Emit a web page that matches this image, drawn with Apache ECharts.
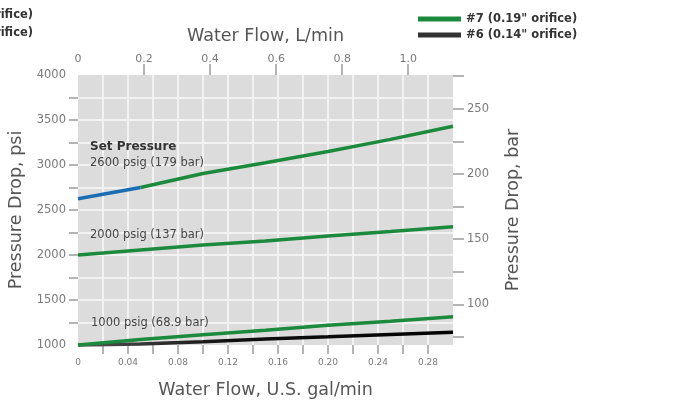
<!DOCTYPE html>
<html>
<head>
<meta charset="utf-8">
<script src="https://cdn.jsdelivr.net/npm/echarts@6/dist/echarts.min.js"></script>
<style>
html,body{margin:0;padding:0;background:#fff;}
#chart{width:700px;height:402px;}
</style>
</head>
<body>
<div id="chart"></div>
<script>
// ---- data (flow in U.S. gal/min, pressure drop in psi) ----
const flowGal = [0, 0.05, 0.10, 0.15, 0.20, 0.25, 0.30];
const set2600Blue = [2625, 2750];                       // first two flows
const set2600Green = [null, 2750, 2905, 3025, 3150, 3285, 3430];
const set2000Green = [2000, 2055, 2110, 2155, 2210, 2260, 2315];
const set1000Green = [1000, 1060, 1115, 1165, 1220, 1265, 1315];
const set1000Black = [1000, 1010, 1035, 1068, 1092, 1118, 1142];

// ---- tick labels / tick positions ----
const psiLabels = [1000, 1500, 2000, 2500, 3000, 3500, 4000];
const psiTicks = [1250, 1500, 1750, 2000, 2250, 2500, 2750, 3000, 3250, 3500, 3750];
const barLabels = [100, 150, 200, 250];
const barTicks = [75, 100, 125, 150, 175, 200, 225, 250, 275];
const galLabels = [0, 0.04, 0.08, 0.12, 0.16, 0.20, 0.24, 0.28];
const galTicks = [0.02, 0.04, 0.06, 0.08, 0.10, 0.12, 0.14, 0.16, 0.18, 0.20, 0.22, 0.24, 0.26, 0.28];
const lpmLabels = [0, 0.2, 0.4, 0.6, 0.8, 1.0];
const lpmTicks = [0.2, 0.4, 0.6, 0.8, 1.0];

const legendNames = ['#7 (0.19" orifice)', '#6 (0.14" orifice)'];
const cutLegend = ['#5 (0.11" orifice)', '#4 (0.07" orifice)'];
const annotations = ['Set Pressure', '2600 psig (179 bar)', '2000 psig (137 bar)', '1000 psig (68.9 bar)'];

const PSI_PER_BAR = 14.5038;
const L_PER_GAL = 3.78541;
const psiMin = psiLabels[0], psiMax = psiLabels[psiLabels.length - 1];
const galMax = flowGal[flowGal.length - 1];

function pairs(vals) {
  return vals.map((v, i) => v == null ? null : [flowGal[i], v]).filter(p => p);
}

const green = '#1b8a3c';
const chart = echarts.init(document.getElementById('chart'), null, {renderer: 'canvas'});

const tickGray = '#b4b4b4';
const labelGray = '#7a7a7a';
const titleGray = '#555';
const FONT = 'DejaVu Sans';
const TITLE_SIZE = 17.5;

chart.setOption({
  animation: false,
  grid: {left: 78, right: 247, top: 75, bottom: 57, show: true, backgroundColor: '#dcdcdd', borderWidth: 0,
    containLabel: false, outerBoundsMode: 'none'},
  legend: {
    data: legendNames,
    orient: 'vertical', left: 413, top: 8, itemGap: 4,
    itemWidth: 43, itemHeight: 5, icon: 'rect',
    textStyle: {fontSize: 11.5, fontWeight: 'bold', color: '#333', fontFamily: FONT}
  },
  xAxis: [{
    type: 'value', position: 'bottom', min: 0, max: galMax, interval: 0.04,
    axisLine: {show: false, onZero: false},
    axisTick: {show: true, inside: false, length: 9, customValues: galTicks, lineStyle: {color: tickGray, width: 2}},
    splitLine: {show: true, lineStyle: {color: '#f2f2f2', width: 2}},
    axisLabel: {margin: 13, fontSize: 9, color: labelGray, fontFamily: FONT, customValues: galLabels,
      formatter: v => v === 0 ? '0' : v.toFixed(2)},
    name: 'Water Flow, U.S. gal/min', nameLocation: 'middle', nameGap: 36,
    nameTextStyle: {fontSize: TITLE_SIZE, color: titleGray, fontFamily: FONT}
  }, {
    type: 'value', position: 'top', min: 0, max: galMax * L_PER_GAL, interval: 0.2,
    axisLine: {show: false, onZero: false},
    axisTick: {show: true, inside: false, length: 11, customValues: lpmTicks, lineStyle: {color: tickGray, width: 2}},
    splitLine: {show: false},
    axisLabel: {margin: 10, fontSize: 11, color: labelGray, fontFamily: FONT, customValues: lpmLabels,
      formatter: v => v === 0 ? '0' : v.toFixed(1)},
    name: 'Water Flow, L/min', nameLocation: 'middle', nameGap: 30,
    nameTextStyle: {fontSize: TITLE_SIZE, color: titleGray, fontFamily: FONT}
  }],
  yAxis: [{
    type: 'value', position: 'left', min: psiMin, max: psiMax, interval: 500,
    axisLine: {show: false, onZero: false},
    axisTick: {show: true, inside: false, length: 9, customValues: psiTicks, lineStyle: {color: tickGray, width: 2}},
    splitLine: {show: true, lineStyle: {color: '#f2f2f2', width: 2}},
    axisLabel: {margin: 12, fontSize: 11.5, color: labelGray, fontFamily: FONT, customValues: psiLabels,
      formatter: v => String(v)},
    name: 'Pressure Drop, psi', nameLocation: 'middle', nameGap: 44, nameRotate: 90,
    nameTextStyle: {fontSize: TITLE_SIZE, color: titleGray, fontFamily: FONT}
  }, {
    type: 'value', position: 'right', min: psiMin, max: psiMax, interval: 500,
    axisLine: {show: false, onZero: false},
    axisTick: {show: true, inside: false, length: 11, customValues: barTicks.map(b => b * PSI_PER_BAR), lineStyle: {color: tickGray, width: 2}},
    splitLine: {show: false},
    axisLabel: {margin: 14, fontSize: 11.5, color: labelGray, fontFamily: FONT, customValues: barLabels.map(b => b * PSI_PER_BAR),
      formatter: v => String(Math.round(v / PSI_PER_BAR))},
    name: 'Pressure Drop, bar', nameLocation: 'middle', nameGap: 51, nameRotate: 90,
    nameTextStyle: {fontSize: TITLE_SIZE, color: titleGray, fontFamily: FONT}
  }],
  graphic: [
    {type: 'text', z: 100, right: 667, top: 9, style: {text: cutLegend[0], fontSize: 11.5, fontWeight: 'bold', fill: '#333', fontFamily: FONT}},
    {type: 'text', z: 100, right: 667, top: 27, style: {text: cutLegend[1], fontSize: 11.5, fontWeight: 'bold', fill: '#333', fontFamily: FONT}},
    {type: 'text', z: 100, left: 90, top: 141, style: {text: annotations[0], fontSize: 12, fontWeight: 'bold', fill: '#333', fontFamily: FONT}},
    {type: 'text', z: 100, left: 90, top: 157, style: {text: annotations[1], fontSize: 11.5, fill: '#444', fontFamily: FONT}},
    {type: 'text', z: 100, left: 90, top: 229, style: {text: annotations[2], fontSize: 11.5, fill: '#444', fontFamily: FONT}},
    {type: 'text', z: 100, left: 91, top: 317, style: {text: annotations[3], fontSize: 11.5, fill: '#444', fontFamily: FONT}}
  ],
  series: [
    {name: legendNames[1], type: 'line', data: pairs(set1000Black), showSymbol: false, clip: false,
      itemStyle: {color: '#333'},
      lineStyle: {width: 3.5, color: new echarts.graphic.LinearGradient(0, 0, 1, 0, [
        {offset: 0, color: '#555'}, {offset: 0.4, color: '#111'}, {offset: 1, color: '#000'}])}},
    {name: legendNames[0], type: 'line', data: pairs(set1000Green), showSymbol: false, clip: false,
      itemStyle: {color: green}, lineStyle: {width: 3.5, color: green}},
    {name: legendNames[0], type: 'line', data: pairs(set2000Green), showSymbol: false,
      itemStyle: {color: green}, lineStyle: {width: 3.5, color: green}},
    {name: legendNames[0], type: 'line', data: pairs(set2600Green), showSymbol: false,
      itemStyle: {color: green}, lineStyle: {width: 3.5, color: green}},
    {name: cutLegend[0], type: 'line', data: pairs(set2600Blue), showSymbol: false,
      itemStyle: {color: '#1a6db3'}, lineStyle: {width: 3.5, color: '#1a6db3'}}
  ]
});
</script>
</body>
</html>
